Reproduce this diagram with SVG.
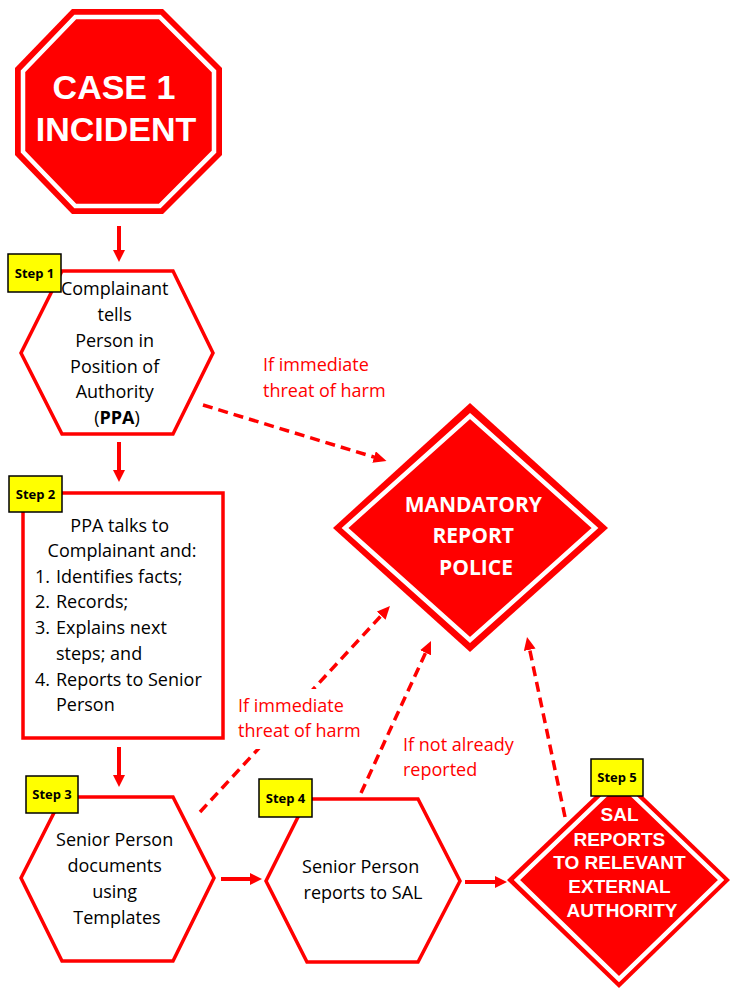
<svg xmlns="http://www.w3.org/2000/svg" width="731" height="990" viewBox="0 0 731 990">
  <style>
    .shape { fill: #FFFFFF; stroke: #FF0000; stroke-width: 3.5; }
    .sign { fill: #FF0000; }
    .rim { fill: #FF0000; stroke: #FFFFFF; stroke-width: 4.5; }
    .body { font-family: "Open Sans", "Noto Sans", sans-serif; font-size: 18px; fill: #000000; }
    .note { font-family: "Open Sans", "Noto Sans", sans-serif; font-size: 18px; fill: #FF0000; }
    .sign-text { font-family: "Liberation Sans", Arial, sans-serif; font-weight: bold; fill: #FFFFFF; text-anchor: middle; }
    .step-box { fill: #FFFF00; stroke: #000000; stroke-width: 1.5; }
    .step-text { font-family: "Open Sans", "Noto Sans", sans-serif; font-weight: bold; font-size: 13px; fill: #000000; text-anchor: middle; }
    .flow { stroke: #FF0000; stroke-width: 4; fill: none; }
    .dash { stroke: #FF0000; stroke-width: 3.5; fill: none; stroke-dasharray: 10 6; }
  </style>
  <defs>
    <marker id="head" viewBox="0 0 12 12" refX="1" refY="6" markerWidth="12" markerHeight="12" markerUnits="userSpaceOnUse" orient="auto">
      <path d="M0,0 L12,6 L0,12 z" fill="#FF0000"/>
    </marker>
    <marker id="dhead" viewBox="0 0 13 12" refX="2" refY="6" markerWidth="13" markerHeight="12" markerUnits="userSpaceOnUse" orient="auto">
      <path d="M0,0 L13,6 L0,12 z" fill="#FF0000"/>
    </marker>
  </defs>
  <rect width="731" height="990" fill="#FFFFFF"/>

  <!-- connectors -->
  <g id="connectors">
    <line class="flow" x1="119" y1="226" x2="119" y2="251" marker-end="url(#head)"/>
    <line class="flow" x1="119" y1="442" x2="119" y2="471" marker-end="url(#head)"/>
    <line class="flow" x1="119" y1="747" x2="119" y2="776" marker-end="url(#head)"/>
    <line class="flow" x1="221" y1="879" x2="251" y2="879" marker-end="url(#head)"/>
    <line class="flow" x1="465" y1="882" x2="496" y2="882" marker-end="url(#head)"/>
    <line class="dash" x1="203" y1="405" x2="376" y2="457.7" marker-end="url(#dhead)"/>
    <line class="dash" x1="200" y1="812" x2="382.5" y2="614.2" marker-end="url(#dhead)"/>
    <line class="dash" x1="361" y1="793" x2="426.4" y2="651" marker-end="url(#dhead)"/>
    <line class="dash" x1="565" y1="817" x2="529.3" y2="647.8" marker-end="url(#dhead)"/>
  </g>

  <!-- connector labels -->
  <g id="labels">
    <text class="note" x="263" y="371">If immediate</text>
    <text class="note" x="263" y="397">threat of harm</text>
    <rect x="234" y="689" width="134" height="60" fill="#FFFFFF"/>
    <text class="note" x="238" y="712">If immediate</text>
    <text class="note" x="238" y="737">threat of harm</text>
    <text class="note" x="403" y="751">If not already</text>
    <text class="note" x="403" y="776">reported</text>
  </g>

  <!-- start: stop sign -->
  <g id="case-incident">
    <polygon class="sign" points="72,9 163,9 222,68 222,155 163,214 72,214 15,155 15,68"/>
    <polygon class="rim" points="75.3,17 159.7,17 214,71.3 214,151.7 159.7,206 75.3,206 23,151.7 23,71.3"/>
    <text class="sign-text" x="114" y="99" font-size="34">CASE 1</text>
    <text class="sign-text" x="116" y="141" font-size="34">INCIDENT</text>
  </g>

  <!-- step 1 -->
  <g id="step1">
    <polygon class="shape" points="62,271 173,271 213,353 173,434 62,434 21,353"/>
    <text class="body" text-anchor="middle">
      <tspan x="117" y="295">Complainant</tspan>
      <tspan x="117" y="321">tells</tspan>
      <tspan x="117" y="347">Person in</tspan>
      <tspan x="117" y="373">Position of</tspan>
      <tspan x="117" y="398">Authority</tspan>
      <tspan x="117" y="424">(<tspan font-weight="bold">PPA</tspan>)</tspan>
    </text>
    <rect class="step-box" x="8" y="254" width="53" height="38"/>
    <text class="step-text" x="34.5" y="278">Step 1</text>
  </g>

  <!-- step 2 -->
  <g id="step2">
    <rect class="shape" x="23" y="493" width="200" height="245"/>
    <text class="body" text-anchor="middle">
      <tspan x="122" y="532">PPA talks to</tspan>
      <tspan x="122" y="557">Complainant and:</tspan>
    </text>
    <text class="body">
      <tspan x="35" y="583">1.</tspan><tspan x="56" y="583">Identifies facts;</tspan>
      <tspan x="35" y="608">2.</tspan><tspan x="56" y="608">Records;</tspan>
      <tspan x="35" y="634">3.</tspan><tspan x="56" y="634">Explains next</tspan>
      <tspan x="56" y="660">steps; and</tspan>
      <tspan x="35" y="686">4.</tspan><tspan x="56" y="686">Reports to Senior</tspan>
      <tspan x="56" y="711">Person</tspan>
    </text>
    <rect class="step-box" x="9" y="476" width="53" height="36"/>
    <text class="step-text" x="35.5" y="499">Step 2</text>
  </g>

  <!-- step 3 -->
  <g id="step3">
    <polygon class="shape" points="62,797 173,797 214,878 173,961 62,961 21,878"/>
    <text class="body" text-anchor="middle">
      <tspan x="117" y="846">Senior Person</tspan>
      <tspan x="117" y="872">documents</tspan>
      <tspan x="117" y="898">using</tspan>
      <tspan x="117" y="924">Templates</tspan>
    </text>
    <rect class="step-box" x="26" y="776" width="52" height="37"/>
    <text class="step-text" x="52" y="799">Step 3</text>
  </g>

  <!-- step 4 -->
  <g id="step4">
    <polygon class="shape" points="307,799 418,799 460,881 418,962 307,962 266,881"/>
    <text class="body" text-anchor="middle">
      <tspan x="363" y="873">Senior Person</tspan>
      <tspan x="363" y="899">reports to SAL</tspan>
    </text>
    <rect class="step-box" x="259" y="779" width="53" height="38"/>
    <text class="step-text" x="285.5" y="803">Step 4</text>
  </g>

  <!-- mandatory police report -->
  <g id="police">
    <polygon class="sign" points="470,403 608,528 470,652 333,528"/>
    <polygon class="rim" points="470,416 595,528 470,640 345,528"/>
    <text font-family="Open Sans, Noto Sans, sans-serif" font-weight="bold" font-size="21" fill="#FFFFFF" text-anchor="middle">
      <tspan x="476" y="512">MANDATORY</tspan>
      <tspan x="476" y="543">REPORT</tspan>
      <tspan x="476" y="575">POLICE</tspan>
    </text>
  </g>

  <!-- step 5 -->
  <g id="step5">
    <polygon class="sign" points="619,773 730,880 619,988 507,880"/>
    <polygon class="rim" points="619,782 721,880 619,979 517,880"/>
    <text class="sign-text" font-size="19">
      <tspan x="622" y="821">SAL</tspan>
      <tspan x="622" y="846">REPORTS</tspan>
      <tspan x="622" y="869">TO RELEVANT</tspan>
      <tspan x="622" y="893">EXTERNAL</tspan>
      <tspan x="622" y="917">AUTHORITY</tspan>
    </text>
    <rect class="step-box" x="591" y="759" width="52" height="37"/>
    <text class="step-text" x="617" y="782">Step 5</text>
  </g>
</svg>
